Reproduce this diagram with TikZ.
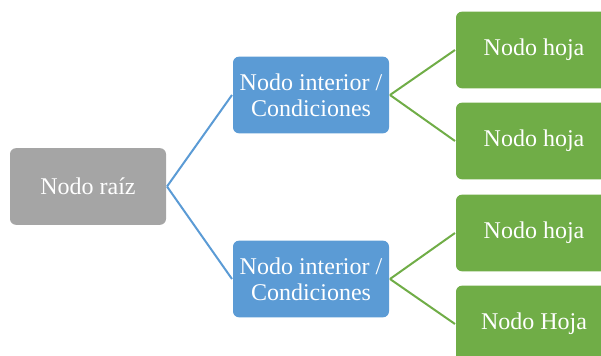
\documentclass[tikz,border=0pt]{standalone}
\usepackage{fontspec}
\setmainfont{Liberation Serif}
\usetikzlibrary{positioning}
\definecolor{rootgray}{HTML}{A5A5A5}
\definecolor{innerblue}{HTML}{5B9BD5}
\definecolor{leafgreen}{HTML}{70AD47}

\begin{document}
\begin{tikzpicture}[x=0.75pt,y=-0.75pt,line width=1.5pt,
                box/.style={rectangle,rounded corners=4.5pt,text=white,inner sep=0pt,
                  minimum width=117pt,minimum height=57.5pt,align=center,
                  font=\fontsize{18}{19.5}\selectfont},
                root node/.style={box,fill=rootgray},
                inner node/.style={box,fill=innerblue},
                leaf node/.style={box,fill=leafgreen}]
\useasboundingbox (0,0) rectangle (601,356);
%Nodes
    \node[root node] (R) at (88,186.5) {Nodo raíz};
    \node[inner node] (I1) at (311,95) {Nodo interior /\\Condiciones};
    \node[inner node] (I2) at (311,279) {Nodo interior /\\Condiciones};
    \node[leaf node] (H1) at (534,50) {Nodo hoja};
    \node[leaf node] (H2) at (534,141) {Nodo hoja};
    \node[leaf node] (H3) at (534,233) {Nodo hoja};
    \node[leaf node] (H4) at (534,324) {Nodo Hoja};

%Edges
    \draw[innerblue] (R.east) -- (I1.west);
    \draw[innerblue] (R.east) -- (I2.west);
    \draw[leafgreen] (I1.east) -- (H1.west);
    \draw[leafgreen] (I1.east) -- (H2.west);
    \draw[leafgreen] (I2.east) -- (H3.west);
    \draw[leafgreen] (I2.east) -- (H4.west);
\end{tikzpicture}
\end{document}
